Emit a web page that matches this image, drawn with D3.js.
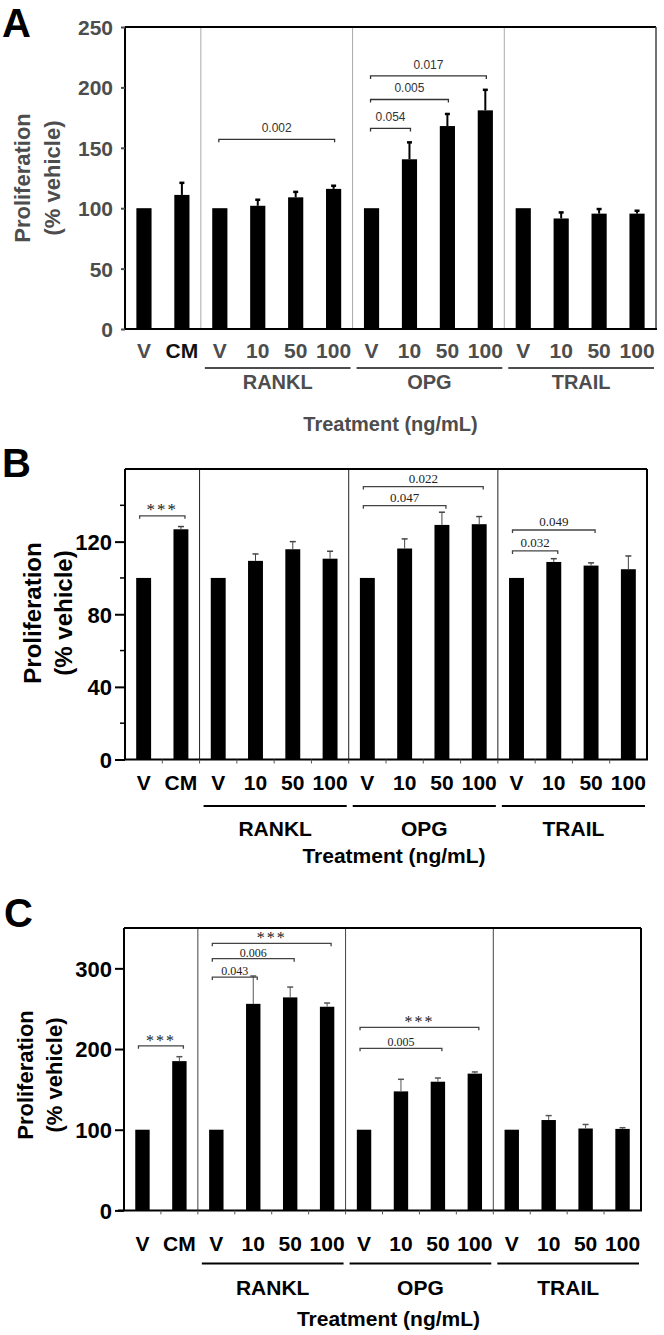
<!DOCTYPE html>
<html><head><meta charset="utf-8">
<script src="https://cdn.jsdelivr.net/npm/d3@7"></script>
<style>body{margin:0;background:#fff}svg{display:block}</style>
</head><body>
<svg id="c" width="664" height="1335"></svg>
<script>
// ---------- data ----------
const categories = ["V","CM","V","10","50","100","V","10","50","100","V","10","50","100"];
const groups = ["RANKL","OPG","TRAIL"];
const groupStart = [2,6,10];
const groupEnd = [6,10,14];

const valuesA = [100,111,100,102,109,116,100,140.5,168,181,100,91.5,95.5,95.5];
const errorsA = [0,10,0,5,4.5,2.6,0,14,10,17,0,5,3.8,2.4];
const ticksA = [0,50,100,150,200,250];
const bracketsA = [
  {from:2,to:5,y:157,text:"0.002"},
  {from:6,to:7,y:166,text:"0.054"},
  {from:6,to:8,y:190,text:"0.005"},
  {from:6,to:9,y:209.5,text:"0.017"}
];

const valuesB = [100,126.8,100,109.4,115.8,110.6,100,116.2,129.2,129.6,100,108.8,106.8,104.8];
const errorsB = [0,1.5,0,3.8,4.2,4.1,0,5.3,7,4.2,0,1.8,1.5,7.3];
const ticksB = [0,40,80,120];
const minorTicksB = [20,60,100,140];
const bracketsB = [
  {from:0,to:1,y:134.2,text:"***"},
  {from:6,to:8,y:139.8,text:"0.047"},
  {from:6,to:9,y:150.3,text:"0.022"},
  {from:10,to:11,y:114.9,text:"0.032"},
  {from:10,to:12,y:126.4,text:"0.049"}
];

const valuesC = [100,185,100,256,264,252.4,100,147.5,159.5,169.5,100,112,101.5,101];
const errorsC = [0,5.5,0,34.5,12.8,4.6,0,15,4.6,2.1,0,5.5,5,1.5];
const ticksC = [0,100,200,300];
const bracketsC = [
  {from:0,to:1,y:204,text:"***"},
  {from:2,to:5,y:331,text:"***"},
  {from:2,to:4,y:312,text:"0.006"},
  {from:2,to:3,y:289.2,text:"0.043"},
  {from:6,to:9,y:226.9,text:"***"},
  {from:6,to:8,y:200.9,text:"0.005"}
];

// ---------- drawing ----------
const svg = d3.select("#c");
svg.append("rect").attr("width",664).attr("height",1335).attr("fill","#fff");
const SANS = "'Liberation Sans', Arial, Helvetica, sans-serif";
const SERIF = "'Liberation Serif', 'Times New Roman', serif";

function panel(o){
  const g = svg.append("g");
  const x = d3.scaleBand().domain(d3.range(categories.length)).range([o.left,o.right]).paddingInner(0).paddingOuter(0);
  const y = d3.scaleLinear().domain([0,o.ymax]).range([o.bottom,o.top]);
  const bw = x.bandwidth()*o.barFrac;
  const cx = i => x(i)+x.bandwidth()/2;

  [2,6,10].forEach(k=>{
    g.append("line").attr("x1",x(k)).attr("x2",x(k)).attr("y1",o.top).attr("y2",o.bottom)
      .attr("stroke",o.sepColor).attr("stroke-width",1);
  });
  g.append("line").attr("x1",o.left).attr("x2",o.right).attr("y1",o.top).attr("y2",o.top)
    .attr("stroke","#000").attr("stroke-width",2);
  g.append("line").attr("x1",o.right).attr("x2",o.right).attr("y1",o.top).attr("y2",o.bottom)
    .attr("stroke",o.rightColor).attr("stroke-width",o.rightW);

  g.selectAll("rect.bar").data(o.values).join("rect").attr("class","bar")
    .attr("x",(d,i)=>cx(i)-bw/2).attr("width",bw)
    .attr("y",d=>y(d)).attr("height",d=>y(0)-y(d)).attr("fill","#000");
  o.values.forEach((v,i)=>{
    const e=o.errors[i]; if(!e) return;
    g.append("line").attr("x1",cx(i)).attr("x2",cx(i)).attr("y1",y(v)).attr("y2",y(v+e))
      .attr("stroke",o.errColor).attr("stroke-width",o.errW);
    g.append("line").attr("x1",cx(i)-o.capW).attr("x2",cx(i)+o.capW).attr("y1",y(v+e)).attr("y2",y(v+e))
      .attr("stroke",o.errColor).attr("stroke-width",o.errW+0.5);
  });

  const ya = d3.axisLeft(y).tickValues(o.ticks).tickSize(o.tickLen).tickPadding(o.tickPad).tickFormat(d3.format("d"));
  const yg = g.append("g").attr("transform",`translate(${o.left},0)`).call(ya);
  yg.select(".domain").attr("stroke","#000").attr("stroke-width",2).attr("d",`M0,${o.top}V${o.bottom}`);
  yg.selectAll(".tick line").attr("stroke",o.textColor).attr("stroke-width",2);
  yg.selectAll(".tick text").attr("font-family",SANS).attr("font-weight","bold")
    .attr("font-size",o.tickFont).attr("fill",o.textColor).attr("dy","0.36em");
  if(o.minor){
    o.minor.forEach(t=>{
      g.append("line").attr("x1",o.left-5).attr("x2",o.left).attr("y1",y(t)).attr("y2",y(t))
        .attr("stroke","#000").attr("stroke-width",1.5);
    });
  }

  const xa = d3.axisBottom(x).tickSize(0).tickFormat(i=>categories[i]);
  const xg = g.append("g").attr("transform",`translate(0,${o.bottom})`).call(xa);
  xg.select(".domain").attr("stroke","#000").attr("stroke-width",2).attr("d",`M${o.left-(o.axisExt||0)},0H${o.right+1}`);
  xg.selectAll(".tick text").attr("font-family",SANS).attr("font-weight","bold")
    .attr("font-size",o.xFont).attr("fill",(d,i)=>i===1?o.cmColor:o.textColor)
    .attr("y",o.xLabelDy).attr("dy","0.36em");
  if(o.boundaryTicks){
    d3.range(1,categories.length).forEach(k=>{
      g.append("line").attr("x1",x(k)).attr("x2",x(k)).attr("y1",o.bottom).attr("y2",o.bottom+4)
        .attr("stroke","#555").attr("stroke-width",1);
    });
  }

  groups.forEach((name,j)=>{
    const x0 = x(groupStart[j])+4, x1 = x(groupEnd[j]-1)+x.bandwidth()-2;
    g.append("line").attr("x1",x0).attr("x2",x1).attr("y1",o.bottom+o.ulDy).attr("y2",o.bottom+o.ulDy)
      .attr("stroke",o.textColor).attr("stroke-width",2);
    g.append("text").attr("x",(x0+x1)/2).attr("y",o.bottom+o.groupDy).attr("dy","0.36em")
      .attr("text-anchor","middle").attr("font-family",SANS).attr("font-weight","bold")
      .attr("font-size",o.groupFont).attr("fill",o.textColor).text(name);
  });
  g.append("text").attr("x",(o.left+o.right)/2+o.titleDx).attr("y",o.bottom+o.titleDy).attr("dy","0.36em")
    .attr("text-anchor","middle").attr("font-family",SANS).attr("font-weight","bold")
    .attr("font-size",o.titleFont).attr("fill",o.textColor).text("Treatment (ng/mL)");

  const yt = g.append("text").attr("transform",`translate(${o.yTitleX},${o.yTitleY}) rotate(-90)`)
    .attr("text-anchor","middle").attr("font-family",SANS).attr("font-weight","bold")
    .attr("font-size",o.yTitleFont).attr("fill",o.textColor);
  yt.append("tspan").attr("x",0).attr("dy","0.36em").text("Proliferation");
  yt.append("tspan").attr("x",0).attr("dy",o.yTitleGap).text("(% vehicle)");

  g.append("text").attr("x",o.letterX).attr("y",o.letterY).attr("font-family",SANS).attr("font-weight","bold")
    .attr("font-size",40).attr("fill","#000").text(o.letter);

  o.brackets.forEach(b=>{
    const x0 = cx(b.from)-o.brInset, x1 = cx(b.to)+o.brInset, yy = y(b.y);
    g.append("path").attr("d",`M${x0},${yy+3}V${yy}H${x1}V${yy+3}`)
      .attr("fill","none").attr("stroke",o.brColor).attr("stroke-width",1.3);
    const isStar = b.text==="***";
    g.append("text").attr("x",(x0+x1)/2).attr("y",yy-(isStar?o.starGap:o.brTextGap))
      .attr("text-anchor","middle").attr("font-family",o.brFont)
      .attr("font-size",isStar?o.starSize:o.brSize).attr("fill",o.brTextColor)
      .attr("letter-spacing",isStar?2:0).text(b.text);
  });
}

panel({letter:"A",letterX:2,letterY:37,left:125,right:656,top:27,bottom:329,ymax:250,
  values:valuesA,errors:errorsA,ticks:ticksA,barFrac:0.4,
  sepColor:"#aaa",rightColor:"#444",rightW:1.5,errColor:"#000",errW:2,capW:2.5,
  tickLen:4,tickPad:8,tickFont:21,textColor:"#4d4d4d",cmColor:"#111",
  xFont:21,xLabelDy:21,ulDy:39,groupDy:53,groupFont:20,titleDy:95,titleDx:0,titleFont:20,
  yTitleX:22,yTitleY:178,yTitleFont:22,yTitleGap:30,
  brackets:bracketsA,brInset:1,brColor:"#333",brTextColor:"#333",brFont:SANS,brSize:12,brTextGap:7,starSize:14,starGap:5});

panel({letter:"B",letterX:2,letterY:477,left:125,right:647,top:469,bottom:759.5,ymax:160,
  values:valuesB,errors:errorsB,ticks:ticksB,minor:minorTicksB,barFrac:0.4,
  sepColor:"#222",rightColor:"#000",rightW:2,errColor:"#444",errW:1,capW:3,
  tickLen:10,tickPad:3,tickFont:22,textColor:"#000",cmColor:"#000",
  xFont:21,xLabelDy:23,ulDy:46.5,groupDy:68.5,groupFont:21,titleDy:96,titleDx:8,titleFont:21,
  yTitleX:32,yTitleY:613,yTitleFont:24,yTitleGap:31,boundaryTicks:true,
  brackets:bracketsB,brInset:4,brColor:"#444",brTextColor:"#222",brFont:SERIF,brSize:13,brTextGap:4,starSize:17,starGap:1});

panel({letter:"C",letterX:4,letterY:927,left:124,right:641,top:928,bottom:1210.4,ymax:350,
  values:valuesC,errors:errorsC,ticks:ticksC,barFrac:0.39,
  sepColor:"#444",rightColor:"#000",rightW:2,errColor:"#555",errW:1,capW:3,
  tickLen:9,tickPad:3,tickFont:22,textColor:"#000",cmColor:"#000",axisExt:6,
  xFont:21,xLabelDy:33,ulDy:53,groupDy:77,groupFont:21,titleDy:108,titleDx:6,titleFont:21,
  yTitleX:25,yTitleY:1075,yTitleFont:22,yTitleGap:29,boundaryTicks:true,
  brackets:bracketsC,brInset:4,brColor:"#444",brTextColor:"#222",brFont:SERIF,brSize:12,brTextGap:2,starSize:16,starGap:0});
</script>
</body></html>
